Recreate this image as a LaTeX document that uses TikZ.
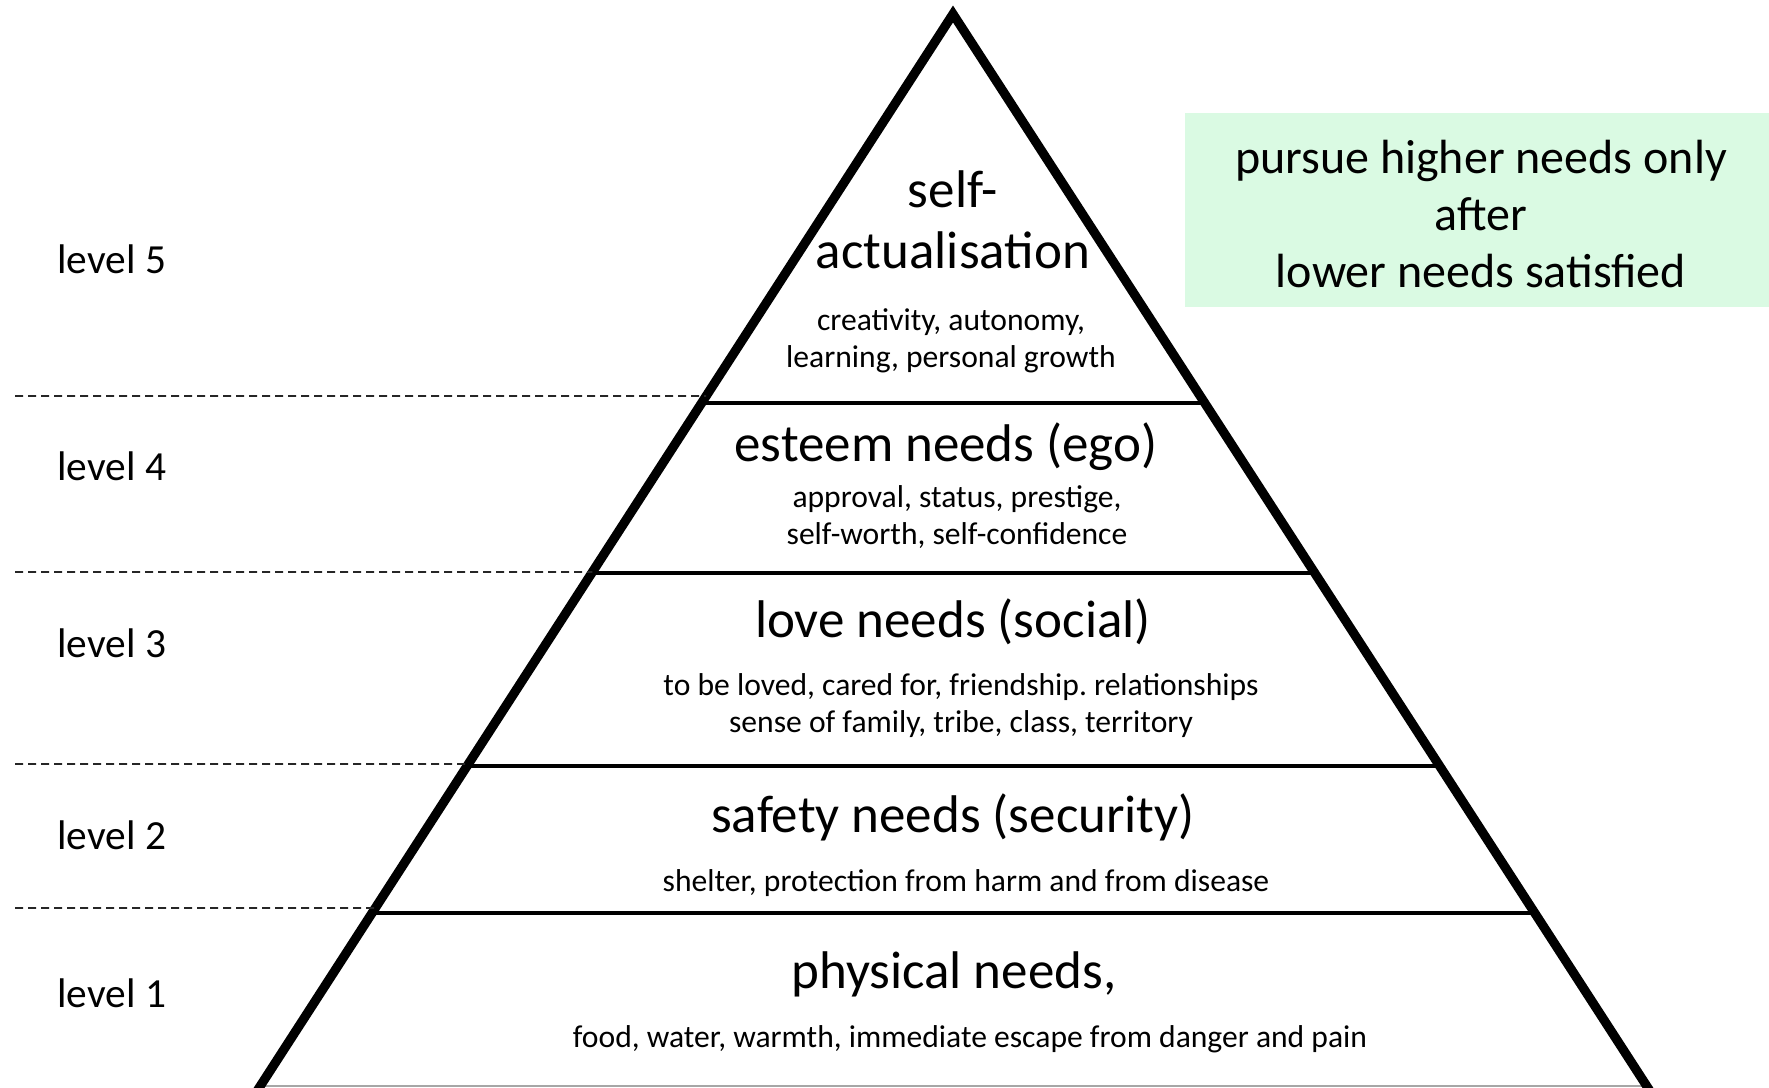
\documentclass[tikz,border=0pt]{standalone}
\usepackage{fontspec}
\setmainfont{Carlito}
\usepackage{tikz}
\usetikzlibrary{calc}
\definecolor{notegreen}{RGB}{218,250,227}
\frenchspacing

\begin{document}
\begin{tikzpicture}[x=0.5pt, y=-0.5pt,
  side/.style={line width=4.6pt, line join=miter},
  tier/.style={line width=2.4pt},
  guide/.style={line width=0.8pt, black!85, dash pattern=on 4pt off 2.5pt},
  title/.style={font=\fontsize{26.5}{30.5}\selectfont, align=center, inner sep=0pt},
  detail/.style={font=\fontsize{15.8}{18.5}\selectfont, align=center, inner sep=0pt},
  level/.style={font=\fontsize{20.7}{24}\selectfont, anchor=west, inner sep=0pt}]
\useasboundingbox (0,0) rectangle (1769,1088);

% pyramid outline
\coordinate (top) at (953,14);
\coordinate (bl) at (259,1088);
\coordinate (br) at (1648,1088);
\draw[gray!70, line width=0.8pt] ($(top)!{1072/1074}!(bl)$) -- ($(top)!{1072/1074}!(br)$);
\draw[side] ($(top)!1.02!(bl)$) -- (top) -- ($(top)!1.02!(br)$);

% tiers and level guides
\foreach \y/\d in {403/396, 573/572, 766/764, 913/908} {
  \draw[tier] ($(top)!{(\y-14)/1074}!(bl)$) -- ($(top)!{(\y-14)/1074}!(br)$);
  \draw[guide] (15,\d) -- ($(top)!{(\d-14)/1074}!(bl)$);
}

\node[level] (lvl5) at (57,259) {level 5};
\node[level] (lvl4) at (57,466) {level 4};
\node[level] (lvl3) at (57,643) {level 3};
\node[level] (lvl2) at (57,835) {level 2};
\node[level] (lvl1) at (57,993) {level 1};

% needs
\node[title] (actual) at (953,220) {self-\\actualisation};
\node[detail] (actualtxt) at (951,341) {creativity, autonomy,\\learning, personal growth};
\node[title] (esteem) at (946,447) {esteem needs (ego)};
\node[detail] (esteemtxt) at (957,517) {approval, status, prestige,\\self-worth, self-confidence};
\node[title] (love) at (953,622) {love needs (social)};
\node[detail] (lovetxt) at (961,706) {to be loved, cared for, friendship. relationships\\sense of family, tribe, class, territory};
\node[title] (safety) at (953,817) {safety needs (security)};
\node[detail] (safetytxt) at (966,883) {shelter, protection from harm and from disease};
\node[title] (physical) at (954,974) {physical needs,};
\node[detail] (physicaltxt) at (970,1039) {food, water, warmth, immediate escape from danger and pain};

% note
\fill[notegreen] (1185,113) rectangle (1769,307);
\node[font=\fontsize{24}{28.5}\selectfont, align=center, inner sep=0pt] (note) at (1481,214)
  {pursue higher needs only\\after\\lower needs satisfied};
\end{tikzpicture}
\end{document}
